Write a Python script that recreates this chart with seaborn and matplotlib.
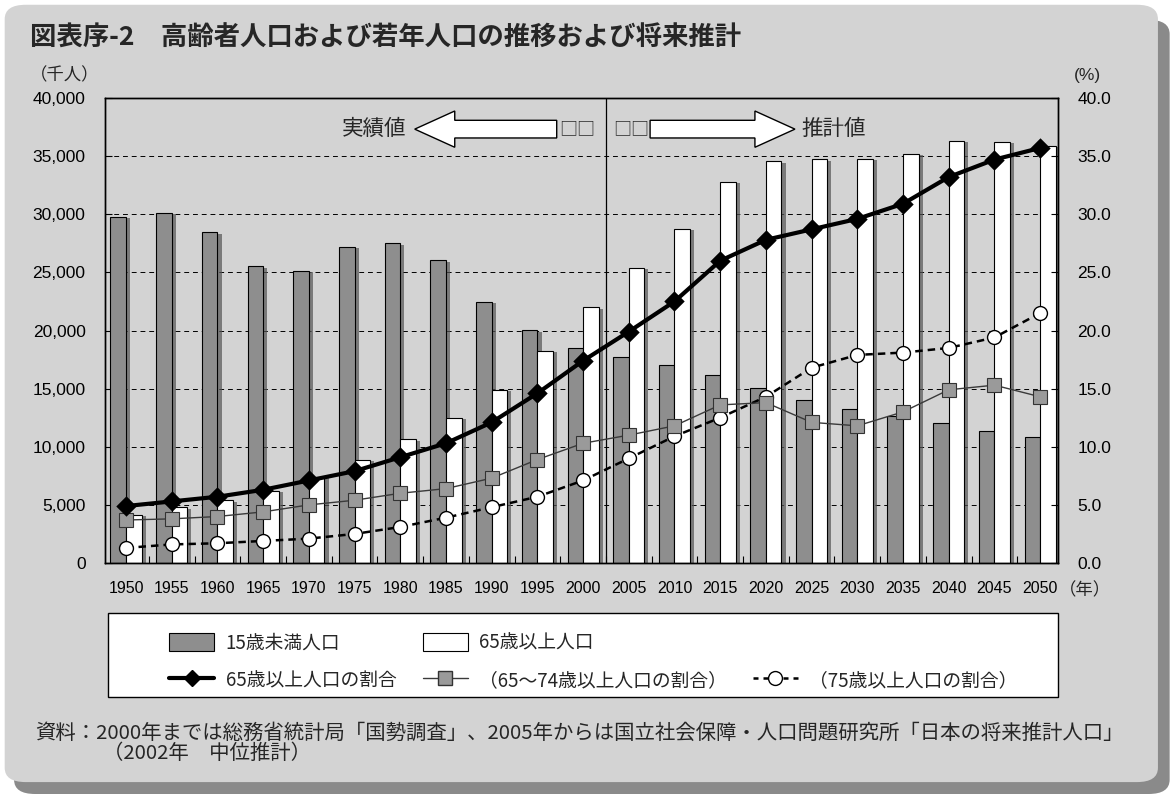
import numpy as np
import pandas as pd
import matplotlib
matplotlib.use('Agg')
import matplotlib.pyplot as plt
import matplotlib.patheffects as pe
from matplotlib.patches import Patch, Rectangle, FancyArrow, FancyBboxPatch
from matplotlib.lines import Line2D
from matplotlib.ticker import FuncFormatter
import seaborn as sns

# data (thousand persons / percent)
years = ['1950', '1955', '1960', '1965', '1970', '1975', '1980', '1985', '1990', '1995',
         '2000', '2005', '2010', '2015', '2020', '2025', '2030', '2035', '2040', '2045', '2050']
pop_under15 = [29786, 30123, 28434, 25529, 25153, 27221, 27507, 26033, 22486, 20014,
               18472, 17727, 17074, 16197, 15095, 13980, 13225, 12666, 12022, 11395, 10842]
pop_65plus = [4155, 4786, 5398, 6236, 7393, 8865, 10647, 12468, 14895, 18261,
              22005, 25392, 28735, 32772, 34559, 34726, 34770, 35213, 36325, 36254, 35863]
ratio_65plus = [4.9, 5.3, 5.7, 6.3, 7.1, 7.9, 9.1, 10.3, 12.1, 14.6,
                17.4, 19.9, 22.5, 26.0, 27.8, 28.7, 29.6, 30.9, 33.2, 34.7, 35.7]
ratio_65_74 = [3.7, 3.8, 4.0, 4.4, 5.0, 5.4, 6.0, 6.4, 7.3, 8.9,
               10.3, 11.0, 11.8, 13.6, 13.8, 12.1, 11.8, 13.0, 14.9, 15.3, 14.3]
ratio_75plus = [1.3, 1.6, 1.7, 1.9, 2.1, 2.5, 3.1, 3.9, 4.8, 5.7,
                7.1, 9.0, 10.9, 12.5, 14.3, 16.8, 17.9, 18.1, 18.5, 19.4, 21.5]

lbl_u15 = '15歳未満人口'
lbl_65 = '65歳以上人口'
lbl_r65 = '65歳以上人口の割合'
lbl_r6574 = '（65～74歳以上人口の割合）'
lbl_r75 = '（75歳以上人口の割合）'

bars = pd.DataFrame({
    'year': years * 2,
    'pop': pop_under15 + pop_65plus,
    'kind': [lbl_u15] * len(years) + [lbl_65] * len(years),
})
ratios = pd.DataFrame({'year': years, 'r65': ratio_65plus,
                       'r6574': ratio_65_74, 'r75': ratio_75plus})

sns.set_theme(style='white')
plt.rcParams['font.family'] = ['Noto Sans CJK JP', 'DejaVu Sans']
num_font = ['Liberation Sans', 'DejaVu Sans']
dark = '#8e8e8e'

fig = plt.figure(figsize=(11.72, 7.94), dpi=100)
fig.patch.set_facecolor('white')

# page with drop shadow
fig.add_artist(FancyBboxPatch((0.012, 0.0), 0.986, 0.975, boxstyle='round,pad=0,rounding_size=0.018',
                              transform=fig.transFigure, fc='#8a8a8a', ec='none', zorder=-20))
fig.add_artist(FancyBboxPatch((0.004, 0.015), 0.984, 0.979, boxstyle='round,pad=0,rounding_size=0.018',
                              transform=fig.transFigure, fc='#d3d3d3', ec='none', zorder=-19))

ax = fig.add_axes([0.0896, 0.2909, 0.8131, 0.5857])
ax.set_facecolor('none')

sns.barplot(data=bars, x='year', y='pop', hue='kind', order=years,
            palette={lbl_u15: dark, lbl_65: 'white'}, saturation=1,
            width=0.68, gap=0, edgecolor='black', linewidth=0.8,
            legend=False, ax=ax)
for p in ax.patches:
    p.set_path_effects([pe.SimplePatchShadow(offset=(3, -1), shadow_rgbFace='#555555', alpha=0.7),
                        pe.Normal()])

ax.set_ylim(0, 40000)
ax.set_yticks(np.arange(0, 40001, 5000))
ax.yaxis.set_major_formatter(FuncFormatter(lambda v, _: f'{int(v):,}'))
ax.yaxis.grid(True, linestyle=(0, (5, 4)), color='black', linewidth=0.7)
ax.set_axisbelow(True)
ax.axvline(10.5, color='black', linewidth=0.9)
ax.set_xlabel('')
ax.set_ylabel('')

ax2 = ax.twinx()
sns.pointplot(data=ratios, x='year', y='r75', order=years, ax=ax2, errorbar=None,
              color='black', linestyle=(0, (3, 2)), linewidth=1.8, marker='o',
              markersize=10, markerfacecolor='white', markeredgecolor='black', markeredgewidth=1.0)
sns.pointplot(data=ratios, x='year', y='r6574', order=years, ax=ax2, errorbar=None,
              color='#3a3a3a', linewidth=1.0, marker='s',
              markersize=9.5, markerfacecolor='#9a9a9a', markeredgecolor='#333333', markeredgewidth=0.8)
sns.pointplot(data=ratios, x='year', y='r65', order=years, ax=ax2, errorbar=None,
              color='black', linewidth=3.0, marker='D', markersize=8.5)
ax2.set_ylim(0, 40)
ax2.set_yticks(np.arange(0, 40.1, 5))
ax2.yaxis.set_major_formatter(FuncFormatter(lambda v, _: f'{v:.1f}'))
ax2.set_xlabel('')
ax2.set_ylabel('')
ax2.grid(False)

for a in (ax, ax2):
    a.set_xlim(-0.46, 20.39)
    for s in a.spines.values():
        s.set_color('black')
        s.set_linewidth(1.0)

ax.set_xticks(range(len(years)))
ax.set_xticklabels(years)
ax.set_xticks(np.arange(len(years) - 1) + 0.5, minor=True)
ax.tick_params(axis='x', which='major', length=0, pad=13, labelsize=11.5)
ax.tick_params(axis='x', which='minor', direction='in', length=5, width=0.8, color='black', bottom=True)
ax.tick_params(axis='y', direction='in', length=5, width=0.8, color='black', pad=14, labelsize=12.5, left=True)
ax2.tick_params(axis='y', direction='in', length=5, width=0.8, color='black', pad=14, labelsize=12.5, right=True)
for t in ax.get_xticklabels() + ax.get_yticklabels() + ax2.get_yticklabels():
    t.set_fontfamily(num_font)
    t.set_color('black')

# 実績値 / 推計値 arrows
ax2.add_patch(FancyArrow(0.474, 0.933, -0.149, 0, width=0.038, head_width=0.078, head_length=0.042,
                         length_includes_head=True, transform=ax2.transAxes,
                         fc='white', ec='black', lw=1.0, zorder=5))
ax2.add_patch(FancyArrow(0.572, 0.933, 0.152, 0, width=0.038, head_width=0.078, head_length=0.042,
                         length_includes_head=True, transform=ax2.transAxes,
                         fc='white', ec='black', lw=1.0, zorder=5))
ax2.text(0.316, 0.933, '実績値', transform=ax2.transAxes, ha='right', va='center', fontsize=15.5)
ax2.text(0.731, 0.933, '推計値', transform=ax2.transAxes, ha='left', va='center', fontsize=15.5)
ax2.text(0.477, 0.933, '□□', transform=ax2.transAxes, ha='left', va='center', fontsize=13)
ax2.text(0.533, 0.933, '□□', transform=ax2.transAxes, ha='left', va='center', fontsize=13)

# titles and unit labels
fig.text(0.026, 0.952, '図表序-2　高齢者人口および若年人口の推移および将来推計',
         fontsize=19, fontweight='bold', va='center', ha='left')
fig.text(0.0555, 0.9055, '（千人）', fontsize=12.5, ha='center', va='center')
fig.text(0.928, 0.9055, '(%)', fontsize=12.5, ha='center', va='center', family=num_font)
fig.text(0.926, 0.257, '（年）', fontsize=12.5, ha='center', va='center')

# legend box
fig.add_artist(Rectangle((0.0922, 0.1222), 0.8105, 0.1058, transform=fig.transFigure,
                         fc='white', ec='black', lw=1.0, zorder=1))
handles = [
    Patch(fc=dark, ec='black', lw=0.8),
    Line2D([], [], color='black', lw=3.0, marker='D', markersize=8.5),
    Patch(fc='white', ec='black', lw=0.8),
    Line2D([], [], color='#3a3a3a', lw=1.0, marker='s', markersize=9.5,
           markerfacecolor='#9a9a9a', markeredgecolor='#333333'),
    Line2D([], [], color='none'),
    Line2D([], [], color='black', lw=1.8, linestyle=(0, (2, 2)), marker='o', markersize=10,
           markerfacecolor='white', markeredgecolor='black'),
]
labels = [lbl_u15, lbl_r65, lbl_65, lbl_r6574, '', lbl_r75]
leg = fig.legend(handles, labels, ncol=3, loc='upper left', bbox_to_anchor=(0.1365, 0.2155),
                 frameon=False, fontsize=13.5, handlelength=2.4, handleheight=1.1,
                 handletextpad=0.6, columnspacing=1.4, labelspacing=0.9, borderpad=0)
leg.set_zorder(2)

# source note
fig.text(0.030, 0.0768, '資料：2000年までは総務省統計局「国勢調査」、2005年からは国立社会保障・人口問題研究所「日本の将来推計人口」',
         fontsize=14.7, ha='left', va='center')
fig.text(0.088, 0.0516, '（2002年　中位推計）', fontsize=14.7, ha='left', va='center')

fig.savefig('out.png', dpi=100, facecolor=fig.get_facecolor())
